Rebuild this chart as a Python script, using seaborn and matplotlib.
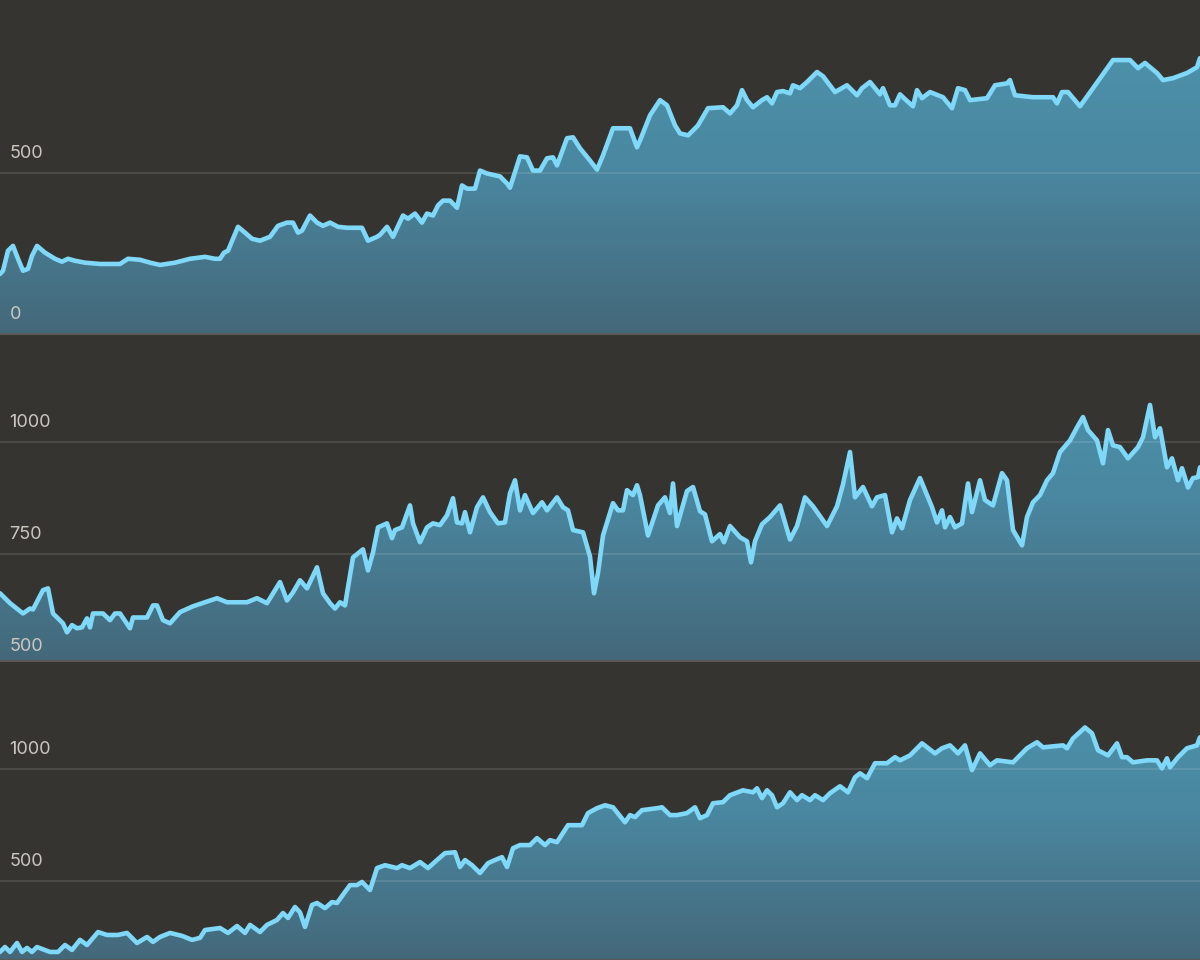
import numpy as np
import pandas as pd
import matplotlib
matplotlib.use('Agg')
import matplotlib.pyplot as plt
from matplotlib.colors import LinearSegmentedColormap
import seaborn as sns

# data (x runs 0..1200 along each panel)
x1 = [0, 3, 8, 13, 18, 23, 28, 32, 37, 45, 55, 62, 68, 75, 85, 100, 120, 128, 140, 150,
      160, 175, 190, 205, 215, 220, 224, 228, 233, 238, 245, 252, 260, 270, 278, 287, 293, 298, 302, 310,
      317, 323, 330, 338, 347, 362, 368, 377, 380, 387, 393, 403, 408, 415, 422, 427, 433, 438, 443, 450,
      457, 462, 467, 475, 480, 487, 500, 507, 510, 520, 527, 533, 540, 547, 553, 557, 567, 573, 580, 590,
      597, 603, 613, 630, 637, 640, 650, 660, 667, 675, 680, 688, 693, 698, 708, 723, 730, 737, 742, 747,
      753, 762, 767, 772, 777, 783, 790, 793, 800, 807, 817, 823, 835, 847, 857, 862, 870, 880, 883, 890,
      895, 900, 905, 913, 917, 922, 930, 943, 952, 958, 965, 970, 987, 995, 1007, 1010, 1015, 1033, 1053, 1057,
      1062, 1068, 1080, 1093, 1113, 1130, 1138, 1145, 1157, 1163, 1173, 1187, 1197, 1200]
v1 = [186, 196, 258, 273, 233, 196, 202, 242, 273, 252, 233, 224, 233, 227, 221, 217, 217, 233, 230, 221,
      214, 221, 233, 239, 233, 233, 252, 258, 295, 332, 314, 295, 289, 301, 335, 345, 345, 314, 320, 367,
      345, 335, 345, 332, 329, 329, 289, 301, 307, 332, 301, 367, 357, 373, 345, 373, 367, 398, 413, 413,
      391, 460, 450, 450, 506, 497, 488, 466, 453, 550, 547, 506, 506, 544, 547, 522, 606, 609, 575, 537,
      509, 553, 637, 637, 578, 599, 677, 724, 708, 646, 621, 615, 630, 646, 699, 702, 683, 708, 755, 724,
      702, 724, 733, 714, 749, 752, 745, 770, 761, 780, 811, 798, 749, 770, 739, 761, 780, 742, 761, 708,
      708, 742, 727, 705, 755, 730, 749, 733, 699, 761, 755, 724, 730, 770, 776, 786, 739, 733, 733, 714,
      749, 749, 705, 761, 848, 848, 823, 839, 808, 786, 792, 808, 826, 854]

x2 = [0, 10, 23, 30, 33, 43, 48, 53, 63, 67, 72, 77, 82, 87, 90, 93, 103, 110, 115, 120,
      130, 133, 147, 153, 157, 163, 170, 180, 193, 217, 227, 247, 257, 267, 280, 287, 293, 300, 307, 317,
      323, 330, 335, 340, 345, 353, 363, 368, 373, 378, 387, 392, 395, 402, 410, 413, 420, 427, 433, 440,
      447, 453, 457, 462, 465, 470, 477, 483, 490, 498, 505, 510, 515, 520, 525, 533, 542, 547, 557, 563,
      568, 573, 583, 590, 594, 598, 603, 613, 618, 623, 627, 633, 637, 640, 648, 658, 665, 670, 673, 677,
      687, 693, 700, 705, 712, 720, 724, 730, 740, 747, 751, 755, 762, 770, 780, 790, 797, 805, 813, 827,
      837, 843, 850, 855, 863, 872, 877, 885, 892, 897, 902, 910, 920, 932, 937, 942, 945, 950, 955, 962,
      968, 972, 980, 985, 993, 1002, 1007, 1013, 1022, 1027, 1033, 1040, 1047, 1053, 1060, 1070, 1077, 1083, 1088, 1097,
      1103, 1108, 1113, 1120, 1128, 1138, 1143, 1150, 1155, 1160, 1167, 1172, 1178, 1182, 1188, 1193, 1198, 1200]
v2 = [663, 641, 618, 629, 627, 670, 674, 618, 596, 576, 592, 585, 587, 607, 587, 618, 618, 603, 618, 618,
      585, 609, 609, 636, 636, 603, 596, 621, 634, 652, 643, 643, 652, 641, 688, 647, 665, 692, 674, 721,
      663, 641, 629, 643, 636, 743, 761, 714, 754, 810, 819, 786, 804, 810, 859, 819, 777, 810, 819, 815,
      837, 875, 821, 819, 844, 799, 855, 877, 844, 819, 821, 886, 915, 848, 882, 842, 866, 848, 877, 855,
      848, 804, 799, 745, 663, 708, 792, 864, 848, 848, 893, 882, 904, 882, 792, 859, 877, 842, 908, 813,
      891, 900, 846, 839, 779, 795, 777, 813, 788, 779, 732, 779, 817, 833, 859, 783, 813, 877, 857, 813,
      857, 906, 978, 877, 900, 857, 877, 882, 799, 830, 808, 871, 920, 855, 821, 848, 810, 833, 810, 819,
      908, 844, 915, 871, 859, 931, 915, 804, 770, 833, 866, 882, 915, 931, 978, 1004, 1033, 1056, 1027, 1004,
      953, 1027, 993, 989, 964, 989, 1011, 1083, 1011, 1031, 944, 964, 915, 942, 899, 920, 922, 944]

x3 = [0, 5, 10, 17, 22, 27, 32, 37, 50, 58, 65, 72, 80, 87, 98, 107, 118, 127, 137, 147,
      153, 160, 170, 182, 192, 200, 205, 220, 228, 237, 245, 250, 260, 267, 277, 283, 288, 295, 300, 305,
      312, 317, 325, 332, 337, 350, 357, 362, 370, 377, 385, 397, 402, 410, 420, 428, 437, 445, 455, 460,
      465, 472, 480, 488, 495, 502, 507, 513, 520, 530, 537, 545, 550, 557, 568, 582, 588, 597, 605, 613,
      625, 630, 635, 642, 657, 662, 670, 677, 687, 695, 700, 707, 713, 723, 730, 743, 753, 757, 762, 767,
      772, 777, 783, 790, 797, 802, 810, 815, 823, 830, 840, 848, 855, 860, 867, 875, 887, 895, 900, 910,
      922, 935, 942, 950, 958, 965, 972, 980, 990, 997, 1013, 1027, 1037, 1043, 1063, 1067, 1073, 1085, 1092, 1098,
      1108, 1117, 1122, 1127, 1133, 1147, 1157, 1162, 1167, 1170, 1178, 1187, 1197, 1200]
v3 = [183, 205, 183, 223, 183, 201, 183, 205, 183, 183, 214, 192, 237, 214, 272, 259, 259, 268, 223, 250,
      228, 250, 268, 255, 237, 246, 281, 290, 268, 299, 268, 304, 272, 304, 326, 357, 335, 384, 360, 295,
      393, 402, 379, 406, 402, 482, 482, 496, 460, 558, 571, 558, 571, 558, 585, 558, 594, 625, 629, 563,
      594, 571, 536, 580, 594, 607, 563, 647, 661, 661, 692, 661, 683, 674, 750, 750, 804, 826, 839, 830,
      763, 795, 786, 817, 826, 830, 795, 795, 804, 830, 781, 795, 848, 853, 884, 906, 897, 915, 871, 906,
      884, 830, 848, 897, 862, 884, 862, 884, 862, 893, 924, 897, 964, 982, 960, 1027, 1027, 1054, 1040, 1062,
      1116, 1071, 1094, 1107, 1071, 1107, 996, 1071, 1018, 1040, 1031, 1094, 1121, 1098, 1107, 1094, 1138, 1187, 1161, 1085,
      1062, 1116, 1054, 1054, 1031, 1040, 1040, 1004, 1049, 1009, 1054, 1094, 1107, 1143]

ylims = [(0, 1025), (511, 1239), (147, 1478)]
ticks = [[0, 500], [500, 750, 1000], [500, 1000]]

bg = '#363430'
line_col = '#7fd8f8'
grad = LinearSegmentedColormap.from_list('fillgrad', ['#44687a', '#4a87a0', '#4e95af'])

sns.set_theme(style='dark', rc={'axes.facecolor': bg, 'figure.facecolor': bg})
plt.rcParams['font.family'] = ['Inter', 'DejaVu Sans']

fig = plt.figure(figsize=(12, 9.6), dpi=100)
boxes = [[0, 0.652, 1, 0.345], [0, 0.311, 1, 0.340], [0, 0.0, 1, 0.310]]

for box, xs, vs, yl, tk in zip(boxes, [x1, x2, x3], [v1, v2, v3], ylims, ticks):
    ax = fig.add_axes(box)
    df = pd.DataFrame({'x': xs, 'value': vs})
    ax.set_xlim(0, 1200)
    ax.set_ylim(*yl)

    # gradient fill under the line
    poly = ax.fill_between(df['x'], df['value'], yl[0] - 50, facecolor='none', edgecolor='none')
    g = np.linspace(1, 0, 256).reshape(-1, 1)
    img = ax.imshow(g, extent=[0, 1200, yl[0], yl[1]], aspect='auto', cmap=grad,
                    origin='upper', zorder=1)
    img.set_clip_path(poly.get_paths()[0], transform=ax.transData)

    for t in tk:
        ax.axhline(t, color='white', alpha=0.12, lw=1.3, zorder=2)
        ax.annotate(str(t), xy=(0.008, t), xycoords=('axes fraction', 'data'),
                    xytext=(0, 14), textcoords='offset points', va='center', ha='left',
                    color='#cac7c1', fontsize=13, zorder=5, annotation_clip=False)

    sns.lineplot(data=df, x='x', y='value', ax=ax, color=line_col, lw=3.3, zorder=3,
                 solid_joinstyle='round', solid_capstyle='round')

    ax.set_xticks([])
    ax.set_yticks([])
    ax.set_xlabel('')
    ax.set_ylabel('')
    for s in ['top', 'left', 'right']:
        ax.spines[s].set_visible(False)
    ax.spines['bottom'].set_color('#5a5957')
    ax.spines['bottom'].set_linewidth(1.5)

fig.savefig('out.png', dpi=100, facecolor=bg)
